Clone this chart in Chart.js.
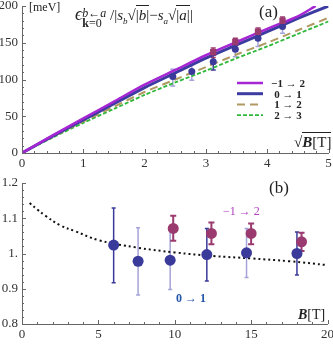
<!DOCTYPE html>
<html>
<head>
<meta charset="utf-8">
<script src="https://cdn.jsdelivr.net/npm/chart.js@4.4.1/dist/chart.umd.min.js"></script>
<style>
    body { margin: 0; background: #fff; width: 333px; height: 344px; overflow: hidden; position: relative; font-family: "Liberation Serif", serif; }
    .box { position: absolute; left: 0; width: 333px; height: 172px; }
    canvas { display: block; }
    .t { position: absolute; white-space: nowrap; color: #222; line-height: 1; }
    .ov { border-top: 1px solid #222; padding-top: 1px; }
</style>
</head>
<body>
<div class="box" style="top:0"><canvas id="chartA" width="333" height="172"></canvas></div>
<div class="box" style="top:172px"><canvas id="chartB" width="333" height="172"></canvas></div>

<!-- panel (a) annotations -->
<div class="t" style="left:29px;top:1px;font-size:12px">[meV]</div>
<div class="t" style="left:75px;top:5px;font-size:15px">
    <i style="font-size:18px">ϵ</i><span style="display:inline-block;vertical-align:-7px;font-size:12px;line-height:10px"><i>b</i>←<i>a</i><br><b>k</b>=0</span>
    /|<i>s</i><sub style="font-size:9px"><i>b</i></sub>√<span class="ov">|<i>b</i>|</span>−<i>s</i><sub style="font-size:9px"><i>a</i></sub>√<span class="ov">|<i>a</i>|</span>|
</div>
<div class="t" style="left:259px;top:3px;font-size:17px">(a)</div>
<div class="t" style="left:294px;top:135px;font-size:15px">√<span class="ov"><b><i>B</i></b>[T]</span></div>

<!-- panel (b) annotations -->
<div class="t" style="left:269px;top:179px;font-size:17px">(b)</div>
<div class="t" style="left:223px;top:205px;font-size:12px;color:#b040c0">−1 → 2</div>
<div class="t" style="left:176px;top:292px;font-size:12px;color:#2255aa;font-weight:bold">0 → 1</div>
<div class="t" style="left:298px;top:308px;font-size:14px"><b><i>B</i></b>[T]</div>

<script>
// ---- panel (a): transition energies vs sqrt(B) ----
const sqrtBGrid = [0, 0.5, 1, 1.5, 2, 2.5, 3, 3.5, 4, 4.5, 5];
const sqrtBGridM12 = [0, 0.5, 1, 1.5, 2, 2.5, 3, 3.5, 4, 4.5, 4.79];
const energyM12 = [0, 24, 47, 70, 93, 113, 133, 151, 169, 186, 200];   // -1 -> 2
const energy01 = [0, 23, 45, 67, 89, 109, 129, 147, 165, 183, 200];    // 0 -> 1
const energy12 = [0, 22, 43, 63, 83, 100, 117, 134, 150, 167, 184];    // 1 -> 2
const energy23 = [0, 21, 41, 60, 79, 96, 112, 129, 145, 162, 179];     // 2 -> 3

const measSqrtB01 = [2.46, 2.77, 3.12, 3.48, 3.85, 4.25];
const measE01 = [104, 111, 124, 141, 156, 172];
const measE01Lo = [91, 99, 113, 131, 145, 163];
const measE01Hi = [114, 121, 133, 150, 163, 180];

const measSqrtBM12 = [3.12, 3.48, 3.85, 4.25];
const measEM12 = [137, 151, 165, 180];
const measEM12Lo = [130, 144, 157, 173];
const measEM12Hi = [143, 156, 170, 185];

const aXTicks = [0, 1, 2, 3, 4, 5];
const aYTicks = [0, 50, 100, 150, 200];

// ---- panel (b): ratio vs B ----
const fitB = [0.5, 1, 1.5, 2.5, 3.5, 5, 7.5, 10, 12.5, 15, 17.5, 20];
const fitRatio = [1.143, 1.125, 1.108, 1.08, 1.063, 1.038, 1.017, 1.003, 0.993, 0.986, 0.978, 0.967];

const ratioB01 = [6.0, 7.6, 9.7, 12.1, 14.7, 18.0];
const ratio01 = [1.024, 0.978, 0.981, 0.997, 1.002, 1.0];
const ratio01Lo = [0.917, 0.882, 0.898, 0.922, 0.932, 0.939];
const ratio01Hi = [1.129, 1.073, 1.066, 1.071, 1.071, 1.061];

const ratioBM12 = [9.9, 12.4, 15.0, 18.3];
const ratioM12 = [1.071, 1.057, 1.057, 1.033];
const ratioM12Lo = [1.036, 1.026, 1.026, 1.007];
const ratioM12Hi = [1.107, 1.088, 1.085, 1.059];

const bXTicks = [0, 5, 10, 15, 20];
const bYTicks = [0.8, 0.9, 1.0, 1.1, 1.2];
const bYLabels = ['0.8', '0.9', '1.', '1.1', '1.2'];

const MAGENTA = '#a626d4';
const BLUE = '#3c3ca0';
const TAN = '#b09a62';
const GREEN = '#2fb83a';
const PLUM = '#9a3a6e';
const NAVY = '#3a3a9a';
const LAVENDER = '#a4a4d8';

const pts = (xs, ys) => xs.map((x, i) => ({ x, y: ys[i] }));

// inward pointing major/minor ticks, Mathematica style
const innerTicks = {
    id: 'innerTicks',
    afterDatasetsDraw(chart, args, o) {
        const { ctx, chartArea: a, scales: { x, y } } = chart;
        ctx.save();
        ctx.strokeStyle = '#666';
        ctx.lineWidth = 1;
        ctx.beginPath();
        const n = Math.round((x.max - x.min) / o.xMinor);
        for (let i = 0; i <= n; i++) {
            const v = x.min + i * o.xMinor;
            const px = Math.round(x.getPixelForValue(v)) + 0.5;
            const len = i % o.xEvery === 0 ? 4 : 2;
            ctx.moveTo(px, a.bottom);
            ctx.lineTo(px, a.bottom - len);
        }
        const m = Math.round((y.max - y.min) / o.yMinor);
        for (let i = 0; i <= m; i++) {
            const v = y.min + i * o.yMinor;
            const py = Math.round(y.getPixelForValue(v)) + 0.5;
            const len = i % o.yEvery === 0 ? 4 : 2;
            ctx.moveTo(a.left, py);
            ctx.lineTo(a.left + len, py);
        }
        ctx.stroke();
        ctx.restore();
    },
};

// vertical error bars with caps
const errorBars = {
    id: 'errorBars',
    beforeDatasetsDraw(chart, args, o) {
        const { ctx, scales: { x, y } } = chart;
        ctx.save();
        o.sets.forEach(s => {
            ctx.lineWidth = s.width;
            s.xs.forEach((xv, i) => {
                const px = x.getPixelForValue(xv);
                const lo = y.getPixelForValue(s.lo[i]);
                const hi = y.getPixelForValue(s.hi[i]);
                ctx.strokeStyle = s.colors ? s.colors[i] : s.color;
                ctx.beginPath();
                ctx.moveTo(px, lo);
                ctx.lineTo(px, hi);
                ctx.moveTo(px - s.cap, lo);
                ctx.lineTo(px + s.cap, lo);
                ctx.moveTo(px - s.cap, hi);
                ctx.lineTo(px + s.cap, hi);
                ctx.stroke();
            });
        });
        ctx.restore();
    },
};

// legend for panel (a)
const curveLegend = {
    id: 'curveLegend',
    afterDraw(chart, args, o) {
        const { ctx } = chart;
        ctx.save();
        ctx.font = 'bold 11px "Liberation Serif", serif';
        ctx.fillStyle = '#222';
        ctx.textAlign = 'center';
        ctx.textBaseline = 'middle';
        o.items.forEach((it, i) => {
            const yy = o.y + i * o.gap;
            ctx.strokeStyle = it.color;
            ctx.lineWidth = it.width;
            ctx.setLineDash(it.dash || []);
            ctx.beginPath();
            ctx.moveTo(o.x, yy);
            ctx.lineTo(o.x + 26, yy);
            ctx.stroke();
            ctx.fillText(it.text, o.x + 51, yy + 1);
        });
        ctx.restore();
    },
};

function fixedAxes(xHeight, xTicks, yTicks, yLabels) {
    const font = { family: '"Liberation Serif", serif', size: 13 };
    return {
        x: {
            type: 'linear',
            min: xTicks[0],
            max: xTicks[xTicks.length - 1],
            afterBuildTicks: s => { s.ticks = xTicks.map(v => ({ value: v })); },
            afterFit: s => { s.height = xHeight; s.paddingLeft = 0; s.paddingRight = 0; },
            grid: { display: false, drawTicks: false },
            border: { display: true, color: '#666', width: 1 },
            ticks: {
                color: '#333', font, padding: 3, maxRotation: 0,
                callback: v => String(v),
            },
        },
        y: {
            type: 'linear',
            min: yTicks[0],
            max: yTicks[yTicks.length - 1],
            afterBuildTicks: s => { s.ticks = yTicks.map(v => ({ value: v })); },
            afterFit: s => { s.width = 22; s.paddingTop = 0; s.paddingBottom = 0; },
            grid: { display: false, drawTicks: false },
            border: { display: true, color: '#666', width: 1 },
            ticks: {
                color: '#333', font, padding: 4,
                callback: (v) => {
                    const i = yTicks.findIndex(t => Math.abs(t - v) < 1e-6);
                    return yLabels ? yLabels[i] : String(v);
                },
            },
        },
    };
}

const baseOptions = {
    responsive: false,
    animation: false,
    events: [],
    plugins: { legend: { display: false }, tooltip: { enabled: false } },
};

new Chart(document.getElementById('chartA'), {
    type: 'scatter',
    data: {
        datasets: [
            {
                label: 'meas -1 -> 2',
                data: pts(measSqrtBM12, measEM12),
                pointStyle: 'rect', pointRadius: 4.5,
                backgroundColor: PLUM, borderWidth: 0,
            },
            {
                label: 'meas 0 -> 1',
                data: pts(measSqrtB01, measE01),
                pointStyle: 'circle', pointRadius: 3.5,
                backgroundColor: NAVY, borderWidth: 0,
            },
            {
                label: '-1 -> 2',
                data: pts(sqrtBGridM12, energyM12),
                showLine: true, pointRadius: 0, tension: 0.25,
                borderColor: MAGENTA, borderWidth: 2.5,
            },
            {
                label: '0 -> 1',
                data: pts(sqrtBGrid, energy01),
                showLine: true, pointRadius: 0, tension: 0.25,
                borderColor: BLUE, borderWidth: 3,
            },
            {
                label: '1 -> 2',
                data: pts(sqrtBGrid, energy12),
                showLine: true, pointRadius: 0, tension: 0.25,
                borderColor: TAN, borderWidth: 2, borderDash: [8, 5],
            },
            {
                label: '2 -> 3',
                data: pts(sqrtBGrid, energy23),
                showLine: true, pointRadius: 0, tension: 0.25,
                borderColor: GREEN, borderWidth: 1.8, borderDash: [4, 2],
            },
        ],
    },
    options: {
        ...baseOptions,
        layout: { padding: { top: 6, right: 3, left: 0, bottom: 0 } },
        scales: fixedAxes(19, aXTicks, aYTicks),
        plugins: {
            ...baseOptions.plugins,
            innerTicks: { xMinor: 0.2, xEvery: 5, yMinor: 10, yEvery: 5 },
            errorBars: {
                sets: [
                    { xs: measSqrtB01, lo: measE01Lo, hi: measE01Hi, width: 1.5, cap: 2.5,
                      colors: [LAVENDER, LAVENDER, NAVY, LAVENDER, LAVENDER, LAVENDER] },
                    { xs: measSqrtBM12, lo: measEM12Lo, hi: measEM12Hi, width: 1.5, cap: 2.5, color: PLUM },
                ],
            },
            curveLegend: {
                x: 237, y: 83, gap: 10.7,
                items: [
                    { text: '−1 → 2', color: MAGENTA, width: 2.5 },
                    { text: '0 → 1', color: BLUE, width: 3 },
                    { text: '1 → 2', color: TAN, width: 2, dash: [8, 5] },
                    { text: '2 → 3', color: GREEN, width: 1.8, dash: [4, 2] },
                ],
            },
        },
    },
    plugins: [innerTicks, errorBars, curveLegend],
});

new Chart(document.getElementById('chartB'), {
    type: 'scatter',
    data: {
        datasets: [
            {
                label: 'ratio -1 -> 2',
                data: pts(ratioBM12, ratioM12),
                pointStyle: 'circle', pointRadius: 5.5,
                backgroundColor: PLUM, borderWidth: 0,
            },
            {
                label: 'ratio 0 -> 1',
                data: pts(ratioB01, ratio01),
                pointStyle: 'circle', pointRadius: 5.5,
                backgroundColor: NAVY, borderWidth: 0,
            },
            {
                label: 'fit',
                data: pts(fitB, fitRatio),
                showLine: true, pointRadius: 0, tension: 0.4,
                borderColor: '#111', borderWidth: 2, borderDash: [2, 3],
            },
        ],
    },
    options: {
        ...baseOptions,
        layout: { padding: { top: 11, right: 3, left: 0, bottom: 0 } },
        scales: fixedAxes(20, bXTicks, bYTicks, bYLabels),
        plugins: {
            ...baseOptions.plugins,
            innerTicks: { xMinor: 1, xEvery: 5, yMinor: 0.02, yEvery: 5 },
            errorBars: {
                sets: [
                    { xs: ratioB01, lo: ratio01Lo, hi: ratio01Hi, width: 1.5, cap: 2,
                      colors: [NAVY, LAVENDER, LAVENDER, NAVY, LAVENDER, NAVY] },
                    { xs: ratioBM12, lo: ratioM12Lo, hi: ratioM12Hi, width: 2, cap: 3, color: PLUM },
                ],
            },
        },
    },
    plugins: [innerTicks, errorBars],
});
</script>
</body>
</html>
